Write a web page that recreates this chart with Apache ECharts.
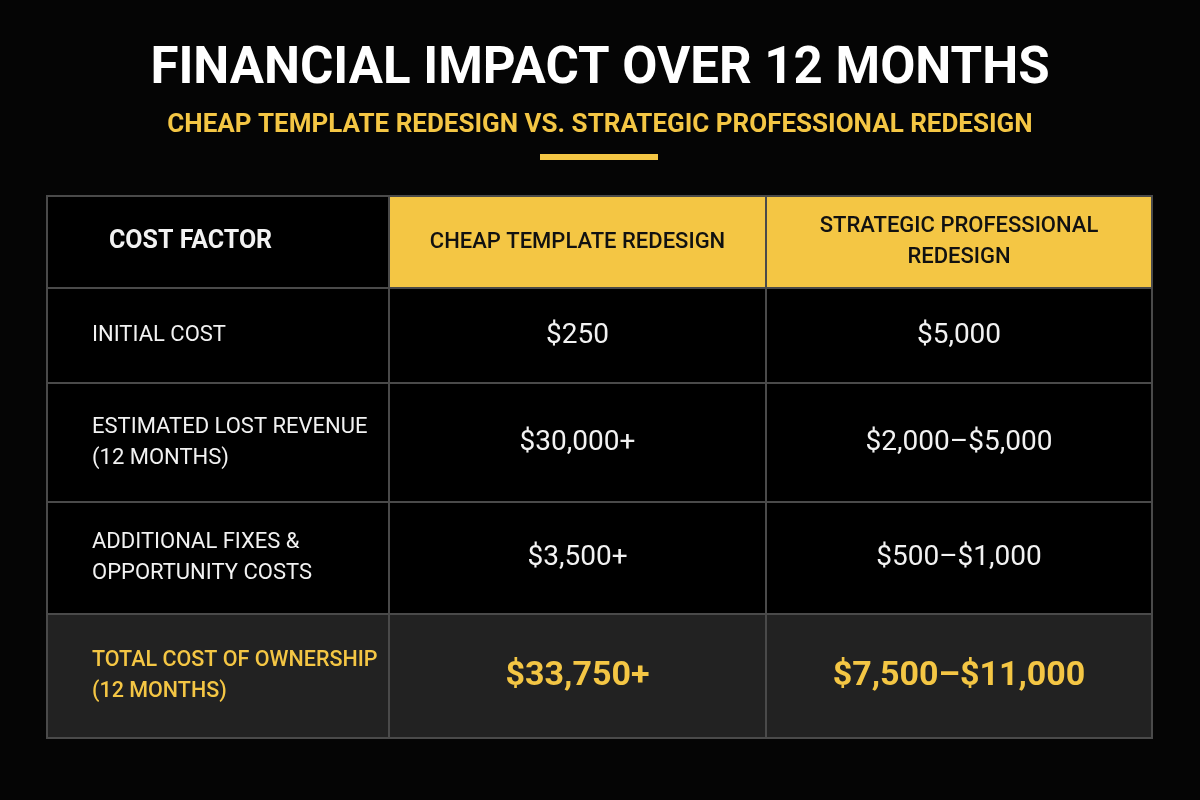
<!DOCTYPE html>
<html>
<head>
<meta charset="utf-8">
<script src="https://cdn.jsdelivr.net/npm/echarts@6/dist/echarts.min.js"></script>
<style>
  html, body { margin: 0; padding: 0; background: #050505; }
  #chart { width: 1200px; height: 800px; }
</style>
</head>
<body>
<div id="chart"></div>
<script>
// 表格内容
const columns = ['COST FACTOR', 'CHEAP TEMPLATE REDESIGN', 'STRATEGIC PROFESSIONAL\nREDESIGN']
const factors = ['INITIAL COST', 'ESTIMATED LOST REVENUE\n(12 MONTHS)', 'ADDITIONAL FIXES &\nOPPORTUNITY COSTS', 'TOTAL COST OF OWNERSHIP\n(12 MONTHS)']
const cheapValues = ['$250', '$30,000+', '$3,500+', '$33,750+']
const strategicValues = ['$5,000', '$2,000–$5,000', '$500–$1,000', '$7,500–$11,000']

// 布局 (axis units = px inside grid)
const colEdges = [0, 342, 719, 1105]
const rowEdges = [0, 92, 187, 306, 418, 542]
const YELLOW = '#f4c644'

const cells = []
columns.forEach((c, i) => cells.push([i, 0, c]))
factors.forEach((f, r) => {
  cells.push([0, r + 1, f])
  cells.push([1, r + 1, cheapValues[r]])
  cells.push([2, r + 1, strategicValues[r]])
})

const chart = echarts.init(document.getElementById('chart'))

const renderItem = (params, api) => {
  const col = api.value(0)
  const row = api.value(1)
  const text = cells[params.dataIndex][2]
  const p0 = api.coord([colEdges[col], rowEdges[row]])
  const p1 = api.coord([colEdges[col + 1], rowEdges[row + 1]])
  const w = p1[0] - p0[0]
  const h = p1[1] - p0[1]
  const isHeader = row === 0
  const isTotal = row === factors.length
  let fill = '#000'
  if (isHeader && col > 0) fill = YELLOW
  if (isTotal) fill = '#222222'
  let color = '#f2f2f2'
  let font = '500 23px Roboto'
  let align = 'center'
  let x = p0[0] + w / 2
  if (isHeader && col > 0) { color = '#111'; font = '500 22px Roboto' }
  if (isHeader && col === 0) { font = 'bold 25px Roboto'; align = 'left'; x = p0[0] + 62 }
  if (!isHeader && col === 0) { font = '22px Roboto'; align = 'left'; x = p0[0] + 45 }
  if (!isHeader && col > 0) font = '28px Roboto'
  if (isTotal) {
    color = YELLOW
    font = col > 0 ? 'bold 34px Roboto' : '500 21.5px Roboto'
  }
  return {
    type: 'group',
    children: [
      { type: 'rect', shape: { x: p0[0], y: p0[1], width: w, height: h },
        style: { fill: fill, stroke: '#4a4a4a', lineWidth: 2 } },
      { type: 'text', style: { x: x, y: p0[1] + h / 2, text: text, fill: color, font: font,
        align: align, verticalAlign: 'middle', lineHeight: 31 } }
    ]
  }
}

chart.setOption({
  backgroundColor: '#050505',
  title: [
    { text: 'FINANCIAL IMPACT OVER 12 MONTHS', left: 'center', top: 40,
      textStyle: { color: '#fff', fontSize: 51, fontWeight: 'bold', fontFamily: 'Roboto' } },
    { text: 'CHEAP TEMPLATE REDESIGN VS. STRATEGIC PROFESSIONAL REDESIGN', left: 'center', top: 107,
      textStyle: { color: YELLOW, fontSize: 26, fontWeight: 'bold', fontFamily: 'Roboto' } }
  ],
  graphic: [{ type: 'rect', shape: { x: 540, y: 154, width: 118, height: 6 }, style: { fill: YELLOW } }],
  grid: { left: 47, top: 196, width: 1105, height: 542 },
  xAxis: { type: 'value', min: 0, max: 1105, show: false },
  yAxis: { type: 'value', min: 0, max: 542, inverse: true, show: false },
  series: [{
    type: 'custom',
    renderItem: renderItem,
    data: cells.map(c => [c[0], c[1]]),
    silent: true
  }]
})
</script>
</body>
</html>
